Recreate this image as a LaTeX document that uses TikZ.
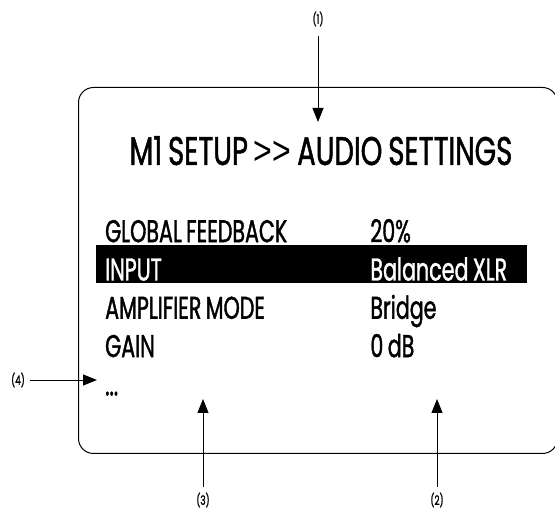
\documentclass[tikz,border=0pt]{standalone}
\usepackage{fontspec}
\setmainfont{Poppins}[FakeStretch=0.69, FakeBold=1.2, WordSpace=0.8]
\newfontfamily\rowfont{Poppins}[FakeStretch=0.655, FakeBold=1.2, WordSpace=0.8]
\newfontfamily\gtfont{Liberation Sans}[FakeStretch=0.8]
\usepackage{tikz}
\usetikzlibrary{matrix,arrows.meta}
\tikzset{
  pointer/.style={-{Triangle[length=14pt,width=11pt]}, line width=0.9pt},
  callout/.style={font=\fontsize{13}{13}\selectfont, inner sep=0pt},
  screen/.style={draw, line width=1pt, rounded corners=15pt, anchor=north west, inner sep=0pt},
}

\begin{document}
\begin{tikzpicture}[x=1pt,y=-1pt]
			\useasboundingbox (0,0) rectangle (555,510);
			\node[screen, minimum width=479pt, minimum height=366pt] (scr) at (78,87) {};
			\node[anchor=base, inner sep=0pt, font=\fontsize{40}{40}\selectfont] (title) at (321,165) {M1 SETUP {\gtfont>{}>} AUDIO SETTINGS};
			\node[fill=black, anchor=north west, inner sep=0pt, minimum width=431pt, minimum height=38pt] (bar) at (96,245) {};
			\matrix (menu) [matrix of nodes, anchor=north west, inner sep=0pt, row sep=9.3pt,
				nodes={anchor=base west, inner sep=0pt, text height=22pt, text depth=7pt, font=\rowfont\fontsize{31.5}{31.5}\selectfont},
				column 1/.style={nodes={text width=265pt, align=flush left}}] at (105,220)
			{
				GLOBAL FEEDBACK & 20\% \\
				|[text=white]| INPUT & |[text=white]| Balanced XLR \\
				AMPLIFIER MODE & Bridge \\
				GAIN & 0 dB \\
				... & \\
			};
			\node[callout] (l1) at (318,19) {(1)};
			\node[callout] (l2) at (437,500) {(2)};
			\node[callout] (l3) at (203,500) {(3)};
			\node[callout] (l4) at (18,380) {(4)};
			\coordinate (t1) at (318,122);
			\coordinate (t2) at (437,399);
			\coordinate (t3) at (203,399);
			\coordinate (t4) at (97,380);
			\path[pointer]
			(l1) edge[shorten <=10pt] (t1)
			(l2) edge[shorten <=6pt] (t2)
			(l3) edge[shorten <=6pt] (t3)
			(l4) edge[shorten <=5pt] (t4);
		\end{tikzpicture}
\end{document}
